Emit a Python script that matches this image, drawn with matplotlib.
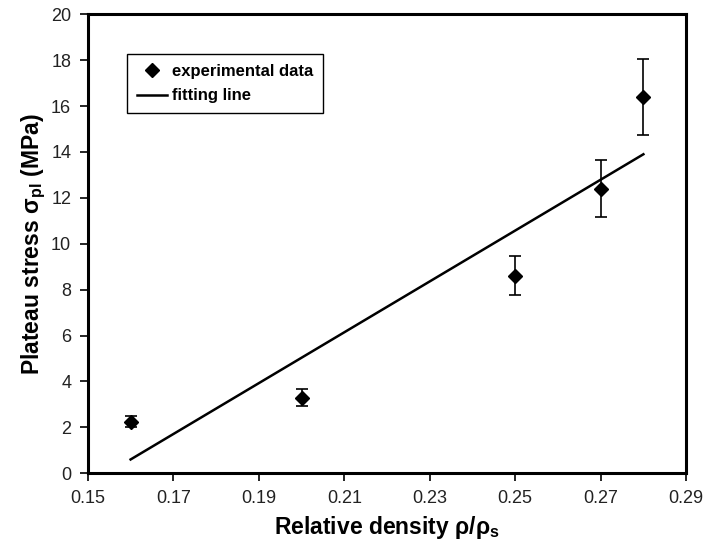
import matplotlib
matplotlib.use("Agg")
import matplotlib.pyplot as plt

plt.rcParams["font.family"] = ["Liberation Sans", "DejaVu Sans"]
plt.rcParams["mathtext.fontset"] = "custom"
plt.rcParams["mathtext.rm"] = "Liberation Sans:bold"
plt.rcParams["mathtext.bf"] = "Liberation Sans:bold"
plt.rcParams["mathtext.it"] = "Liberation Sans:bold"

# dados experimentais
densidade = [0.16, 0.20, 0.25, 0.27, 0.28]
tensao = [2.25, 3.3, 8.6, 12.4, 16.4]
erro = [0.25, 0.35, 0.85, 1.25, 1.65]

# linha de ajuste
x_ajuste = [0.16, 0.28]
y_ajuste = [0.6, 13.9]

fig = plt.figure(figsize=(7.03, 5.49), dpi=100)
ax = fig.add_axes([0.125, 0.138, 0.851, 0.836])

# barras de erro e depois os pontos
ax.errorbar(densidade, tensao, yerr=erro, fmt="none", ecolor="black",
            elinewidth=1.2, capsize=4, capthick=1.2)
ax.plot(densidade, tensao, "D", color="black", ms=7, label="experimental data")
ax.plot(x_ajuste, y_ajuste, color="black", lw=1.8, label="fitting line")

ax.set(xlim=(0.15, 0.29), ylim=(0, 20),
       xticks=[0.15, 0.17, 0.19, 0.21, 0.23, 0.25, 0.27, 0.29],
       yticks=range(0, 21, 2))
ax.set_xticklabels(["0.15", "0.17", "0.19", "0.21", "0.23", "0.25", "0.27", "0.29"])
ax.tick_params(direction="out", length=6, width=1.2, labelsize=13, pad=6,
               labelcolor="#222222")

for s in ax.spines.values():
    s.set_linewidth(2.2)

ax.set_xlabel(r"Relative density ρ/ρ$_{s}$", fontsize=16.5, fontweight="bold", labelpad=5)
ax.set_ylabel(r"Plateau stress $\mathbf{σ_{pl}}$ (MPa)", fontsize=16.5, fontweight="bold", labelpad=2)

leg = ax.legend(loc="upper left", bbox_to_anchor=(0.065, 0.913), borderaxespad=0,
                fancybox=False, edgecolor="black", framealpha=1,
                prop={"weight": "bold", "size": 12},
                handlelength=1.8, handletextpad=0.3, borderpad=0.6, labelspacing=0.55)
leg.get_frame().set_linewidth(1.0)

fig.savefig("out.png", dpi=100)
